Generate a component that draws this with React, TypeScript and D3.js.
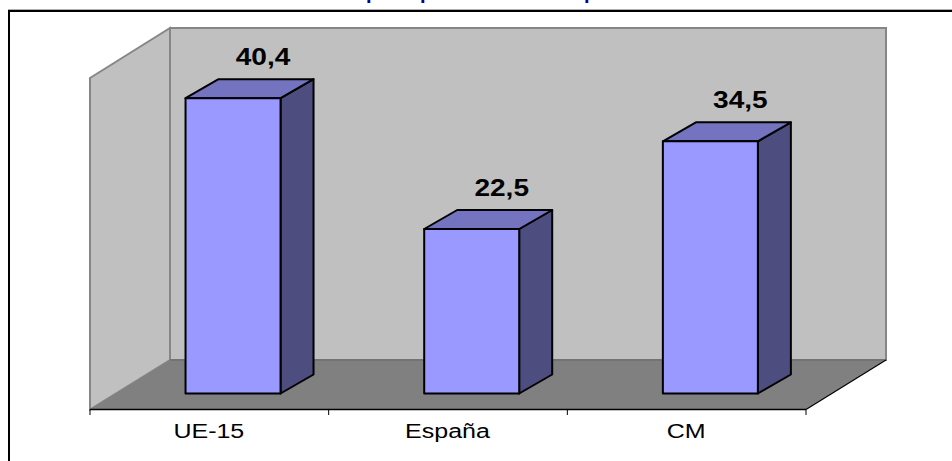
import React from "react";
import * as d3 from "d3";

const categories = ["UE-15", "España", "CM"];
const values = [40.4, 22.5, 34.5];
const valueLabels = ["40,4", "22,5", "34,5"];
const yDomain = [0, 45];
// Only the descenders of the reference's title are visible above the frame.
const titleFragments = ["p", "p", "p"];
const titleFragmentX = [366, 420, 584];

const W = 952, H = 461;
const plot = { left: 90, right: 806, floorY: 409.5, top: 78 };
const wall = { dx: 80, dy: -49.5 };
const barOffset = { dx: 23.7, dy: -16 };
const barDepth = { dx: 33, dy: -19 };
const barWidth = 95;

const x = d3.scaleBand<string>().domain(categories).range([plot.left, plot.right]);
const y = d3.scaleLinear().domain(yDomain).range([plot.floorY, plot.floorY - 329]);
const poly = d3.line();
const P = (pts: [number, number][]) => poly(pts)! + "Z";

const font = "'Liberation Sans', Arial, sans-serif";
const colors = {
  wall: "#C0C0C0", wallEdge: "#868686", floor: "#808080", floorEdge: "#737373",
  front: "#9999FF", top: "#7373BF", side: "#4D4D80", title: "#000099",
};

export default function App() {
  const bl: [number, number] = [plot.left, plot.floorY];
  const br: [number, number] = [plot.right, plot.floorY];
  const backL: [number, number] = [plot.left + wall.dx, plot.floorY + wall.dy];
  const backR: [number, number] = [plot.right + wall.dx, plot.floorY + wall.dy];
  const wallTop = plot.top - 50;
  const ticks = [...categories.map((c) => x(c)!), plot.right];

  return (
    <svg width={W} height={H} viewBox={`0 0 ${W} ${H}`}
      style={{ position: "fixed", left: 0, top: 0, display: "block", background: "#fff" }}>
      {/* clipped title */}
      <text fontFamily={font} fontWeight="bold" fontSize={20} fill={colors.title} y={-1}>
        {titleFragments.map((t, i) => (
          <tspan key={i} x={titleFragmentX[i]}>{t}</tspan>
        ))}
      </text>

      {/* frame */}
      <path d={`M8 9.5H${W}`} stroke="#b0b0b0" strokeWidth={1} fill="none" />
      <path d={`M9 ${H}V11H${W}`} stroke="#000" strokeWidth={2} fill="none" />

      {/* walls and floor */}
      <path d={P([[backL[0], wallTop], [backR[0], wallTop], backR, backL])}
        fill={colors.wall} stroke={colors.wallEdge} strokeWidth={2} />
      <path d={P([[plot.left, plot.top], [backL[0], wallTop], backL, bl])}
        fill={colors.wall} stroke={colors.wallEdge} strokeWidth={2} />
      <path d={P([bl, backL, backR, br])} fill={colors.floor} />
      <path d={poly([backL, backR])!} stroke={colors.floorEdge} strokeWidth={2} fill="none" />
      <path d={poly([br, backR])!} stroke="#000" strokeWidth={1.2} fill="none" />

      {/* axis */}
      <path d={poly([bl, br])!} stroke="#000" strokeWidth={1.4} fill="none" />
      {ticks.map((t, i) => (
        <path key={i} d={`M${t} ${plot.floorY}V415`} stroke="#000" strokeWidth={1} />
      ))}
      {categories.map((c) => (
        <text key={c} fontFamily={font} fontSize={20} fill="#000" textAnchor="middle"
          transform={`translate(${x(c)! + x.bandwidth() / 2 - 0.5},437.5) scale(1.25,1)`}>
          {c}
        </text>
      ))}

      {/* bars */}
      {categories.map((c, i) => {
        const x0 = x(c)! + (x.bandwidth() - barWidth) / 2 + barOffset.dx;
        const x1 = x0 + barWidth;
        const yB = y(0) + barOffset.dy;
        const yT = y(values[i]) + barOffset.dy;
        const { dx, dy } = barDepth;
        return (
          <g key={c} stroke="#000" strokeWidth={2} strokeLinejoin="round">
            <path d={P([[x1, yT], [x1 + dx, yT + dy], [x1 + dx, yB + dy], [x1, yB]])} fill={colors.side} />
            <path d={P([[x0, yT], [x0 + dx, yT + dy], [x1 + dx, yT + dy], [x1, yT]])} fill={colors.top} />
            <path d={P([[x0, yT], [x1, yT], [x1, yB], [x0, yB]])} fill={colors.front} />
            <text stroke="none" fontFamily={font} fontWeight="bold" fontSize={24} fill="#000" textAnchor="middle"
              transform={`translate(${(x0 + x1) / 2 + 30},${yT + dy - 14}) scale(1.17,1)`}>
              {valueLabels[i]}
            </text>
          </g>
        );
      })}
    </svg>
  );
}
